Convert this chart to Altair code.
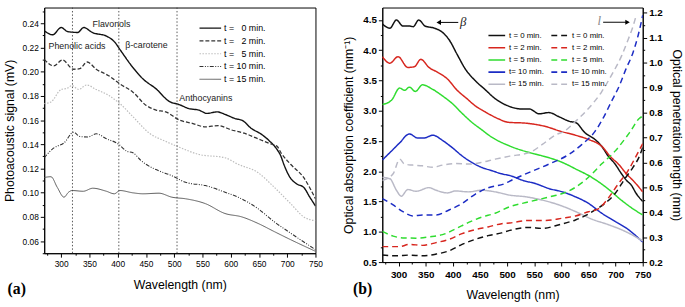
import altair as alt
import pandas as pd

FN = "Liberation Sans Narrow, Arial Narrow, Liberation Sans, Arial, sans-serif"
FS = "Liberation Serif, Times New Roman, serif"

# ---------------- Panel (a): photoacoustic signal (mV) ----------------
A_SERIES = ["t = \u20070 min.", "t = \u20072 min.", "t = \u20075 min.", "t = 10 min.", "t = 15 min."]
A_COLORS = ["#111111", "#333333", "#bdbdbd", "#333333", "#5a5a5a"]
A_DASH = [[1, 0], [4, 2], [1.5, 1.5], [4, 1.5, 1, 1.5, 1, 1.5], [1, 0]]
A_WIDTH = [1.4, 1.0, 1.0, 1.0, 1.0]

a_wl_t0 = [270, 285, 300, 311, 329, 340, 355, 381, 395, 404, 427, 445, 468, 491, 509, 526, 544, 558,
           576, 590, 607, 622, 636, 654, 668, 680, 689, 694, 705, 717, 729, 740, 750]
a_sig_t0 = [0.2338, 0.2305, 0.2365, 0.2332, 0.2324, 0.2365, 0.2324, 0.2292, 0.2243, 0.2183, 0.2034,
            0.1939, 0.1858, 0.1755, 0.1728, 0.1695, 0.1682, 0.1655, 0.1668, 0.1647, 0.1614, 0.1593,
            0.1533, 0.1484, 0.1430, 0.1370, 0.1300, 0.1235, 0.1126, 0.1072, 0.1045, 0.0963, 0.0890]

a_wl_t2 = [270, 287, 302, 322, 333, 346, 362, 384, 404, 427, 450, 468, 485, 509, 532, 555, 578, 601,
           624, 648, 671, 682, 689, 706, 729, 750]
a_sig_t2 = [0.2102, 0.2048, 0.2097, 0.2020, 0.2025, 0.2080, 0.2020, 0.1967, 0.1898, 0.1831, 0.1723,
            0.1682, 0.1668, 0.1601, 0.1573, 0.1544, 0.1555, 0.1519, 0.1492, 0.1446, 0.1403, 0.1384,
            0.1330, 0.1235, 0.1126, 0.0950]

a_wl_t5 = [270, 282, 300, 311, 319, 331, 345, 362, 384, 404, 427, 456, 485, 509, 544, 590, 613, 648,
           677, 706, 729, 750]
a_sig_t5 = [0.1736, 0.1750, 0.1853, 0.1863, 0.1885, 0.1853, 0.1890, 0.1853, 0.1804, 0.1736, 0.1628,
            0.1492, 0.1424, 0.1376, 0.1316, 0.1289, 0.1235, 0.1167, 0.1045, 0.0910, 0.0801, 0.0768]

a_wl_t10 = [270, 287, 305, 322, 333, 347, 362, 380, 401, 416, 427, 441, 450, 473, 496, 520, 555, 590,
            613, 648, 677, 706, 750]
a_sig_t10 = [0.1289, 0.1370, 0.1411, 0.1500, 0.1465, 0.1460, 0.1487, 0.1446, 0.1403, 0.1343, 0.1330,
             0.1267, 0.1235, 0.1181, 0.1140, 0.1086, 0.1059, 0.1004, 0.0963, 0.0869, 0.0760, 0.0666,
             0.0530]

a_wl_t15 = [270, 282, 293, 305, 313, 319, 339, 356, 380, 394, 404, 427, 445, 473, 496, 520, 555, 590,
            619, 648, 677, 706, 750]
a_sig_t15 = [0.1126, 0.1132, 0.1045, 0.0963, 0.1004, 0.1018, 0.1012, 0.1037, 0.1012, 0.0991, 0.1018,
             0.0999, 0.0991, 0.0996, 0.0963, 0.0950, 0.0910, 0.0828, 0.0801, 0.0747, 0.0679, 0.0612,
             0.0516]

a_markers = [320, 402, 505]
a_note_txt = ["Phenolic acids", "Flavonols", "\u03b2-carotene", "Anthocyanins"]
a_note_wl = [328, 389, 451, 556]
a_note_v = [0.221, 0.2392, 0.2218, 0.1779]

# ---------------- Panel (b): absorption coefficient / penetration length ----------------
B_LABELS = ["t = 0 min.", "t = 2 min.", "t = 5 min.", "t= 10 min.", "t= 15 min."]
B_COLORS = ["#111111", "#d7261e", "#2fdc2f", "#1c2cc4", "#b9b9c6"]

b_wl_s0 = [270, 284, 296, 308, 320, 327, 337, 349, 366, 381, 393, 408, 423, 441, 459, 478, 502, 526,
           541, 559, 577, 596, 617, 626, 644, 662, 674, 686, 699, 711, 720, 729, 738, 750]
b_beta_s0 = [4.435, 4.365, 4.50, 4.40, 4.40, 4.39, 4.50, 4.40, 4.365, 4.295, 4.175, 3.93, 3.69, 3.50,
             3.354, 3.20, 3.08, 3.03, 3.03, 2.95, 2.97, 2.90, 2.82, 2.807, 2.633, 2.526, 2.417, 2.255,
             2.12, 1.958, 1.85, 1.77, 1.633, 1.50]

b_wl_s2 = [270, 284, 299, 317, 329, 341, 356, 372, 390, 408, 426, 441, 459, 484, 502, 535, 571, 599,
           626, 650, 674, 692, 705, 720, 735, 750]
b_beta_s2 = [3.894, 3.786, 3.894, 3.716, 3.727, 3.85, 3.716, 3.635, 3.526, 3.338, 3.20, 3.083, 2.985,
             2.867, 2.81, 2.795, 2.74, 2.66, 2.596, 2.526, 2.417, 2.227, 2.12, 1.958, 1.82, 1.66]

b_wl_s5 = [270, 287, 302, 311, 320, 331, 344, 363, 381, 399, 417, 435, 453, 469, 505, 541, 565, 602,
           626, 656, 686, 711, 735, 750]
b_beta_s5 = [3.104, 3.175, 3.375, 3.338, 3.39, 3.32, 3.429, 3.354, 3.245, 3.12, 2.958, 2.81, 2.688,
             2.58, 2.417, 2.31, 2.255, 2.146, 2.04, 1.90, 1.71, 1.52, 1.362, 1.28]

b_wl_s10 = [270, 287, 302, 320, 335, 347, 363, 381, 399, 417, 435, 453, 472, 490, 505, 529, 553, 577,
            602, 626, 650, 674, 699, 723, 750]
b_beta_s10 = [2.185, 2.336, 2.47, 2.617, 2.55, 2.55, 2.596, 2.51, 2.39, 2.255, 2.146, 2.065, 2.01,
              1.958, 1.93, 1.85, 1.795, 1.715, 1.66, 1.578, 1.47, 1.31, 1.172, 1.04, 0.83]

b_wl_s15 = [270, 284, 296, 305, 317, 332, 356, 369, 390, 405, 429, 453, 478, 505, 535, 565, 596, 626,
            656, 686, 717, 750]
b_beta_s15 = [1.90, 1.877, 1.687, 1.589, 1.698, 1.67, 1.73, 1.687, 1.643, 1.675, 1.66, 1.687, 1.66,
              1.606, 1.578, 1.524, 1.443, 1.335, 1.21, 1.12, 1.01, 0.85]

b_wl_d0 = [270, 296, 320, 344, 369, 393, 417, 441, 465, 490, 505, 541, 565, 596, 626, 647, 662, 680,
           699, 717, 732, 744, 750]
b_len_d0 = [0.228, 0.225, 0.228, 0.225, 0.232, 0.245, 0.271, 0.291, 0.306, 0.317, 0.327, 0.339, 0.335,
            0.35, 0.369, 0.389, 0.409, 0.435, 0.475, 0.534, 0.58, 0.625, 0.66]

b_wl_d2 = [270, 302, 320, 344, 369, 393, 417, 441, 465, 490, 505, 541, 571, 602, 626, 650, 668, 686,
           705, 723, 738, 750]
b_len_d2 = [0.262, 0.262, 0.271, 0.267, 0.278, 0.291, 0.314, 0.33, 0.341, 0.354, 0.357, 0.367, 0.367,
            0.376, 0.385, 0.402, 0.413, 0.455, 0.514, 0.567, 0.626, 0.675]

b_wl_d5 = [270, 290, 308, 332, 356, 381, 405, 429, 453, 478, 505, 541, 577, 602, 626, 650, 674, 699,
           714, 726, 744, 750]
b_len_d5 = [0.323, 0.304, 0.297, 0.296, 0.301, 0.31, 0.333, 0.359, 0.38, 0.396, 0.422, 0.442, 0.461,
            0.475, 0.50, 0.54, 0.593, 0.645, 0.685, 0.72, 0.777, 0.785]

b_wl_d10 = [270, 290, 308, 326, 344, 369, 393, 417, 441, 465, 496, 505, 541, 577, 614, 638, 662, 677,
            692, 707, 719, 732, 741, 750]
b_len_d10 = [0.455, 0.429, 0.402, 0.385, 0.389, 0.389, 0.409, 0.435, 0.472, 0.498, 0.515, 0.525, 0.56,
             0.593, 0.632, 0.672, 0.724, 0.777, 0.843, 0.908, 0.974, 1.04, 1.105, 1.19]

b_wl_d15 = [270, 290, 302, 311, 326, 344, 363, 381, 405, 429, 453, 478, 505, 541, 565, 590, 605, 626,
            650, 674, 692, 711, 723, 732, 738]
b_len_d15 = [0.527, 0.554, 0.613, 0.593, 0.589, 0.586, 0.58, 0.589, 0.595, 0.593, 0.60, 0.613, 0.625,
             0.639, 0.672, 0.711, 0.724, 0.764, 0.816, 0.882, 0.948, 1.027, 1.092, 1.145, 1.19]

# ---------------- build tables ----------------
rows = []
for name, xs_, ys_ in zip(A_SERIES, [a_wl_t0, a_wl_t2, a_wl_t5, a_wl_t10, a_wl_t15],
                          [a_sig_t0, a_sig_t2, a_sig_t5, a_sig_t10, a_sig_t15]):
    rows += [{"series": name, "wl": x, "v": y} for x, y in zip(xs_, ys_)]
df_a = pd.DataFrame(rows)

# legend fills column by column: solid entries first, then dashed
B_KEYS = ["S " + lab for lab in B_LABELS] + ["D " + lab for lab in B_LABELS]
B_KCOL = B_COLORS + B_COLORS
B_KDASH = [[1, 0]] * 5 + [[6, 4]] * 5

rows = []
for lab, xs_, ys_ in zip(B_LABELS, [b_wl_s0, b_wl_s2, b_wl_s5, b_wl_s10, b_wl_s15],
                         [b_beta_s0, b_beta_s2, b_beta_s5, b_beta_s10, b_beta_s15]):
    rows += [{"key": "S " + lab, "wl": x, "L": y} for x, y in zip(xs_, ys_)]
df_bL = pd.DataFrame(rows)
rows = []
for lab, xs_, ys_ in zip(B_LABELS, [b_wl_d0, b_wl_d2, b_wl_d5, b_wl_d10, b_wl_d15],
                         [b_len_d0, b_len_d2, b_len_d5, b_len_d10, b_len_d15]):
    rows += [{"key": "D " + lab, "wl": x, "R": y} for x, y in zip(xs_, ys_)]
df_bR = pd.DataFrame(rows)

# ---------------- axes ----------------
x_ticks = list(range(275, 751, 25))
xscale = alt.Scale(domain=[270, 750], nice=False, zero=False)


def x_axis(size, weight, lp, tp, tsize):
    return alt.Axis(title="Wavelength (nm)", values=x_ticks, format="d",
                    labelExpr="datum.value % 50 === 0 ? datum.label : ''",
                    tickSize={"condition": {"test": "datum.value % 50 === 0", "value": 4}, "value": 2},
                    labelFlush=False, labelOverlap=False, grid=False,
                    labelFont=FN, labelFontSize=size, labelFontWeight=weight, labelPadding=lp,
                    titleFont=FN, titleFontSize=tsize, titleFontWeight="normal", titlePadding=tp)


def y_axis(title, vals, major_test, fmt, size, weight, tp, tsize, orient="left"):
    return alt.Axis(title=title, values=vals, format=fmt, orient=orient,
                    labelExpr=f"({major_test}) ? datum.label : ''",
                    tickSize={"condition": {"test": major_test, "value": 4}, "value": 2},
                    labelFlush=False, labelOverlap=False, grid=False,
                    labelFont=FN, labelFontSize=size, labelFontWeight=weight, labelPadding=2,
                    titleFont=FN, titleFontSize=tsize, titleFontWeight="normal", titlePadding=tp)


ya_ticks = [round(0.05 + 0.01 * i, 2) for i in range(21)]
yL_ticks = [round(0.5 + 0.25 * i, 2) for i in range(17)]
yR_ticks = [round(0.2 + 0.05 * i, 2) for i in range(21)]

xa = alt.X("wl:Q", scale=xscale, axis=x_axis(8.5, "normal", 3, 10, 12.5))
ya = alt.Y("v:Q", scale=alt.Scale(domain=[0.05, 0.253], nice=False, zero=False),
           axis=y_axis("Photoacoustic signal (mV)", ya_ticks,
                       "abs(datum.value*50 - round(datum.value*50)) < 0.001", ".2f", 8.5, "normal", 6, 12.5))

leg_a = alt.Legend(title=None, orient="none", legendX=157, legendY=14.5, symbolType="stroke",
                   symbolSize=484, symbolStrokeWidth=1.2, labelFont=FN, labelFontSize=9,
                   labelOffset=2, clipHeight=13, rowPadding=0, padding=0)

lines_a = alt.Chart(df_a).mark_line(interpolate="monotone", clip=True).encode(
    x=xa, y=ya,
    color=alt.Color("series:N", scale=alt.Scale(domain=A_SERIES, range=A_COLORS), legend=leg_a),
    strokeDash=alt.StrokeDash("series:N", scale=alt.Scale(domain=A_SERIES, range=A_DASH), legend=leg_a),
    strokeWidth=alt.StrokeWidth("series:N", scale=alt.Scale(domain=A_SERIES, range=A_WIDTH), legend=None),
)
vlines = alt.Chart(pd.DataFrame({"wl": a_markers})).mark_rule(
    color="#444444", strokeDash=[1.5, 2], strokeWidth=0.9).encode(x=xa)
notes_a = alt.Chart(pd.DataFrame({"wl": a_note_wl, "v": a_note_v, "txt": a_note_txt})).mark_text(
    font=FN, fontSize=9, color="#222222").encode(x=xa, y=ya, text="txt:N")
label_a = alt.Chart(pd.DataFrame({"t": ["(a)"]})).mark_text(
    font=FS, fontSize=16, fontWeight="bold", color="black").encode(
    x=alt.value(-28), y=alt.value(286), text="t:N")
panel_a = alt.layer(lines_a, vlines, notes_a, label_a).properties(width=276, height=250)

# ---------------- panel b ----------------
xb = alt.X("wl:Q", scale=xscale, axis=x_axis(10, "bold", 4, 9, 12.5))
sL = alt.Scale(domain=[0.5, 4.706], nice=False, zero=False)
sR = alt.Scale(domain=[0.2, 1.221], nice=False, zero=False)
axL = y_axis("Optical absorption coefficient (mm\u207b\u00b9)", yL_ticks,
             "abs(datum.value*2 - round(datum.value*2)) < 0.001", ".1f", 10, "bold", 7, 12.5)
axR = y_axis("Optical penetration length (mm)", yR_ticks,
             "abs(datum.value*10 - round(datum.value*10)) < 0.001", ".1f", 10, "bold", 7, 12.5, "right")

leg_b = alt.Legend(title=None, orient="none", legendX=107, legendY=23, columns=2, symbolType="stroke",
                   symbolSize=289, symbolStrokeWidth=1.6, labelFont=FN, labelFontSize=8,
                   labelOffset=3, clipHeight=11, rowPadding=1.4, columnPadding=6, padding=0,
                   labelExpr="substring(datum.label, 2)")
cB = alt.Color("key:N", scale=alt.Scale(domain=B_KEYS, range=B_KCOL), legend=leg_b)
dB = alt.StrokeDash("key:N", scale=alt.Scale(domain=B_KEYS, range=B_KDASH), legend=leg_b)

solid = alt.Chart(df_bL).mark_line(interpolate="monotone", strokeWidth=1.5, clip=True).encode(
    x=xb, y=alt.Y("L:Q", scale=sL, axis=axL), color=cB, strokeDash=dB)
dashed = alt.Chart(df_bR).mark_line(interpolate="monotone", strokeWidth=1.5, clip=True).encode(
    x=xb, y=alt.Y("R:Q", scale=sR, axis=axR), color=cB, strokeDash=dB)

arrowL = pd.DataFrame({"wl": [374], "wl2": [410], "L": [4.46]})
ruleL = alt.Chart(arrowL).mark_rule(color="black", strokeWidth=1).encode(
    x=xb, x2="wl2:Q", y=alt.Y("L:Q", scale=sL, axis=axL))
headL = alt.Chart(arrowL).mark_point(shape="triangle-left", filled=True, size=28, color="black",
                                     opacity=1).encode(x=xb, y=alt.Y("L:Q", scale=sL, axis=axL))
betaT = alt.Chart(pd.DataFrame({"wl": [419], "L": [4.47], "t": ["\u03b2"]})).mark_text(
    font=FS, fontStyle="italic", fontSize=13, color="#222222").encode(
    x=xb, y=alt.Y("L:Q", scale=sL, axis=axL), text="t:N")
label_b = alt.Chart(pd.DataFrame({"t": ["(b)"]})).mark_text(
    font=FS, fontSize=16, fontWeight="bold", color="black").encode(
    x=alt.value(-20), y=alt.value(286), text="t:N")

arrowR = pd.DataFrame({"wl": [722], "wl2": [677], "R": [1.162]})
ruleR = alt.Chart(arrowR).mark_rule(color="black", strokeWidth=1).encode(
    x=xb, x2="wl2:Q", y=alt.Y("R:Q", scale=sR, axis=axR))
headR = alt.Chart(arrowR).mark_point(shape="triangle-right", filled=True, size=28, color="black",
                                     opacity=1).encode(x=xb, y=alt.Y("R:Q", scale=sR, axis=axR))
lT = alt.Chart(pd.DataFrame({"wl": [670], "R": [1.167], "t": ["l"]})).mark_text(
    font=FS, fontStyle="italic", fontSize=13, color="#888888").encode(
    x=xb, y=alt.Y("R:Q", scale=sR, axis=axR), text="t:N")

groupL = alt.layer(solid, ruleL, headL, betaT, label_b)
groupR = alt.layer(dashed, ruleR, headR, lT)
panel_b = alt.layer(groupL, groupR).resolve_scale(y="independent").properties(width=265, height=259)

chart = alt.hconcat(panel_a, panel_b, spacing=19).resolve_scale(
    color="independent", strokeDash="independent", strokeWidth="independent"
).properties(
    padding={"left": 2, "top": 4, "right": 2, "bottom": 0}, background="white"
).configure_view(stroke="black", strokeWidth=1).configure_axis(
    domainColor="black", tickColor="black", labelColor="black", titleColor="black",
    domainWidth=1, tickWidth=1, grid=False
)

chart.save("out.html", embed_options={"renderer": "svg", "actions": False})
